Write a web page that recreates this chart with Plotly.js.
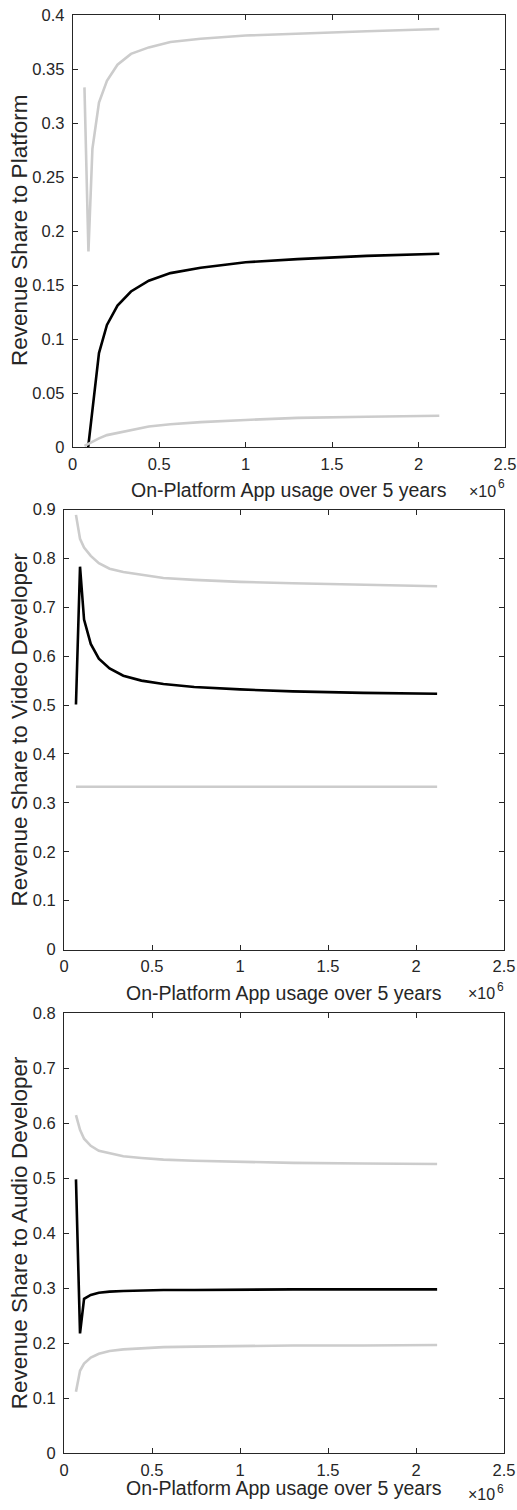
<!DOCTYPE html>
<html>
<head>
<meta charset="utf-8">
<script src="https://cdn.plot.ly/plotly-3.0.1.min.js"></script>
<style>html,body{margin:0;padding:0;background:#fff;}#chart{width:517px;height:1510px;}</style>
</head>
<body>
<div id="chart"></div>
<script>
// On-platform app usage over 5 years (actual units; axis shows x10^6)
const usage = [68000, 91000, 114000, 152000, 198000, 259000, 337000, 440000, 565000, 740000, 1000000, 1300000, 1700000, 2120000];

// Panel 1: Revenue share to platform
const platformUpper = [0.333, 0.181, 0.276, 0.319, 0.339, 0.354, 0.364, 0.370, 0.375, 0.378, 0.381, 0.383, 0.385, 0.387];
const platformMid   = [-0.03, 0.003, 0.035, 0.087, 0.113, 0.131, 0.144, 0.154, 0.161, 0.166, 0.171, 0.174, 0.177, 0.179];
const platformLower = [0.001, 0.003, 0.005, 0.008, 0.011, 0.013, 0.016, 0.019, 0.021, 0.023, 0.025, 0.027, 0.028, 0.029];

// Panel 2: Revenue share to video developer
const videoUpper = [0.889, 0.840, 0.822, 0.805, 0.790, 0.779, 0.772, 0.766, 0.760, 0.756, 0.752, 0.749, 0.746, 0.743];
const videoMid   = [0.501, 0.783, 0.675, 0.625, 0.595, 0.575, 0.560, 0.550, 0.543, 0.537, 0.532, 0.528, 0.525, 0.523];
const videoLower = [0.333, 0.333, 0.333, 0.333, 0.333, 0.333, 0.333, 0.333, 0.333, 0.333, 0.333, 0.333, 0.333, 0.333];

// Panel 3: Revenue share to audio developer
const audioUpper = [0.615, 0.588, 0.572, 0.559, 0.550, 0.545, 0.540, 0.537, 0.534, 0.532, 0.530, 0.528, 0.527, 0.526];
const audioMid   = [0.498, 0.218, 0.281, 0.288, 0.292, 0.294, 0.295, 0.296, 0.297, 0.297, 0.298, 0.298, 0.298, 0.298];
const audioLower = [0.112, 0.150, 0.163, 0.174, 0.181, 0.186, 0.189, 0.191, 0.193, 0.194, 0.195, 0.196, 0.196, 0.197];

const xTickVals = [0, 500000, 1000000, 1500000, 2000000, 2500000];
const xTickText = ["0", "0.5", "1", "1.5", "2", "2.5"];
const xTitle = "On-Platform App usage over 5 years";
const xExpBase = "\u00d710";
const xExpPow = "6";
const yTitles = ["Revenue Share to Platform", "Revenue Share to Video Developer", "Revenue Share to Audio Developer"];

const W = 517, H = 1510;
const GRAY = "#cccccc", BLACK = "#000000", AX = "#262626";
const FONT = "Liberation Sans, Arial, Helvetica, sans-serif";

// panel boxes in pixels [left, right, top, bottom]
const boxes = [
  [72.7, 505, 15, 447],
  [64, 504, 509.5, 949.5],
  [64, 504, 1013.3, 1453.3]
];
// title centre offset below axis, exponent base offset, exponent power offset
const titleDrop = [43, 43, 35];
const expDrop = [44, 44, 41];
const powDrop = [37, 37, 36];

const series = [
  [platformUpper, platformMid, platformLower],
  [videoUpper, videoMid, videoLower],
  [audioUpper, audioMid, audioLower]
];
const yRanges = [[0, 0.4], [0, 0.9], [0, 0.8]];
const yDticks = [0.05, 0.1, 0.1];

const traces = [];
const layout = {
  width: W, height: H, autosize: false,
  margin: {l: 0, r: 0, t: 0, b: 0},
  paper_bgcolor: "#fff", plot_bgcolor: "#fff",
  showlegend: false,
  font: {family: FONT, color: AX, size: 16},
  annotations: []
};

function ann(xpx, ypx, text, size, xanchor, extra) {
  return Object.assign({
    xref: "paper", yref: "paper", x: xpx / W, y: 1 - ypx / H,
    xanchor: xanchor, yanchor: "middle", showarrow: false, borderpad: 0,
    text: text, font: {family: FONT, size: size, color: AX}
  }, extra || {});
}

series.forEach((grp, i) => {
  const sfx = i === 0 ? "" : String(i + 1);
  const xa = "x" + sfx, ya = "y" + sfx;
  grp.forEach((vals, k) => {
    traces.push({
      x: usage, y: vals, xaxis: xa, yaxis: ya,
      type: "scatter", mode: "lines",
      line: {color: k === 1 ? BLACK : GRAY, width: 2.6},
      hoverinfo: "skip"
    });
  });
  const b = boxes[i];
  const common = {
    showline: true, linecolor: AX, linewidth: 1, mirror: "ticks",
    ticks: "inside", ticklen: 5, tickwidth: 1, tickcolor: AX,
    showgrid: false, zeroline: false, fixedrange: true,
    tickfont: {family: FONT, size: 16.5, color: AX}
  };
  layout["xaxis" + sfx] = Object.assign({}, common, {
    domain: [b[0] / W, b[1] / W], anchor: ya,
    range: [0, 2500000], tickmode: "array", tickvals: xTickVals, ticktext: xTickText,
    ticklabelstandoff: 2
  });
  layout["yaxis" + sfx] = Object.assign({}, common, {
    domain: [1 - b[3] / H, 1 - b[2] / H], anchor: xa,
    range: yRanges[i], dtick: yDticks[i], tick0: 0,
    ticklabelstandoff: 4
  });
  const cx = (b[0] + b[1]) / 2;
  layout.annotations.push(ann(cx, b[3] + titleDrop[i], xTitle, 19.5, "center"));
  layout.annotations.push(ann(b[1] - 8, b[3] + expDrop[i], xExpBase, 16, "right"));
  layout.annotations.push(ann(b[1] - 8, b[3] + powDrop[i], xExpPow, 12, "left"));
  layout.annotations.push(ann(19, (b[2] + b[3]) / 2, yTitles[i], 22.5, "center", {textangle: -90}));
});

Plotly.newPlot("chart", traces, layout, {staticPlot: true, displayModeBar: false});
</script>
</body>
</html>
